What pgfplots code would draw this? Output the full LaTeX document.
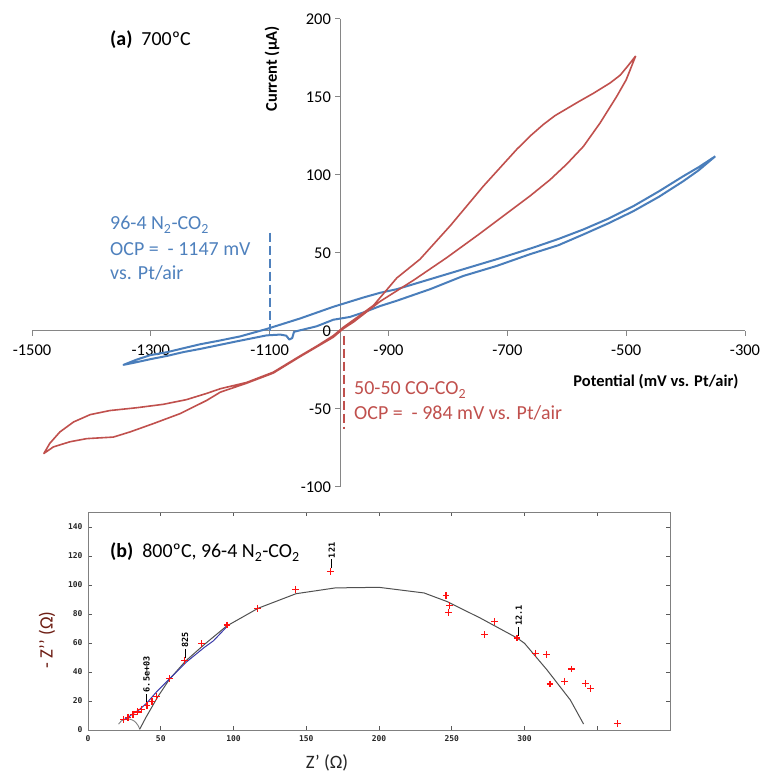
\documentclass[border=0pt]{standalone}
\usepackage{pgfplots}
\pgfplotsset{compat=1.18}
\usepackage{fontspec}
\setmainfont{Carlito}
\newfontfamily\monof{DejaVu Sans Mono}
\definecolor{xred}{HTML}{C0504D}
\definecolor{xblue}{HTML}{4A7EBB}
\definecolor{axgray}{HTML}{868686}
\definecolor{txtblue}{HTML}{4F81BD}
\definecolor{txtred}{HTML}{C0504D}
\definecolor{gpred}{HTML}{FF1010}
\definecolor{gpgray}{HTML}{505050}
\definecolor{fitblue}{HTML}{3838A8}
\definecolor{ylab}{RGB}{110,30,20}
\begin{document}
\begin{tikzpicture}
\useasboundingbox (0,0) rectangle (760bp,773bp);
% ---------------- panel (a)
\begin{axis}[
  at={(32bp,286bp)}, anchor=south west, scale only axis,
  width=713bp, height=468bp,
  xmin=-1500, xmax=-300, ymin=-100, ymax=200,
  axis x line=middle, axis y line=none,
  x axis line style={-, draw=axgray, line width=1bp},
  xtick={-1500,-1300,-1100,-900,-700,-500,-300},
  xticklabels={-1500,-1300,-1100,-900,-700,-500,-300},
  xtick align=outside, major tick length=5bp,
  tick style={axgray, line width=1bp},
  xticklabel style={font=\fontsize{16.5}{18}\selectfont, yshift=-5bp},
  clip=false,
]
\draw[axgray, line width=1bp] (axis cs:-981,-100) -- (axis cs:-981,200);
\pgfplotsinvokeforeach{-100,-50,0,50,100,150,200}{
  \draw[axgray, line width=1bp] (axis cs:-981,#1) -- ([xshift=-5bp]axis cs:-981,#1)
    node[left, inner sep=4bp, text=black, font=\fontsize{16.5}{18}\selectfont] {#1};
}
\addplot[xblue, line width=2bp, line join=round] coordinates {
(-350,112) (-378,105) (-404,99.2) (-445,89.5) (-488,80) (-530,72) (-572,65.1) (-614,59) (-656,53.5) (-718,46) (-774,39.6) (-830,33.2) (-886,26.8) (-914,24.5) (-942,21.5) (-993,15.5) (-1049,8) (-1105,1.3) (-1150,-3.5) (-1189,-6.5) (-1217,-8.5) (-1250,-11.5) (-1273,-13.6) (-1301,-15.5) (-1325,-18.5) (-1346,-21.7)
(-1330,-20.5) (-1300,-18) (-1273,-16) (-1245,-13.5) (-1217,-11.5) (-1160,-7) (-1105,-2.8) (-1082,-2.3) (-1072,-3) (-1067,-5.5) (-1062,-4.5) (-1059,-0.5) (-1021,3) (-993,7.2) (-965,9) (-942,11.9) (-914,16) (-886,19.4) (-830,26.8) (-774,35.3) (-718,41.7) (-662,49.2) (-614,55) (-572,61.9) (-530,69) (-488,76.8) (-445,86) (-404,96) (-378,103) (-350,112)
};
\addplot[xred, line width=1.6bp, line join=round] coordinates {
(-484,176.3) (-497,170) (-510,164) (-527,159) (-555,152.4) (-580,147) (-600,142.5) (-620,138) (-639,132.5) (-660,125.5) (-684,116.5) (-740,93) (-796,67.5) (-847,46) (-886,34) (-925,16.5) (-950,9.5) (-976,2.4) (-993,-3) (-1020,-9.5) (-1049,-16) (-1094,-26.4) (-1139,-33) (-1183,-37) (-1206,-40) (-1240,-44) (-1279,-47) (-1324,-49.2) (-1369,-51) (-1402,-53.6) (-1430,-58.3) (-1453,-64.7) (-1470,-72) (-1480,-78.5)
(-1464,-74.3) (-1436,-71) (-1408,-69) (-1363,-68) (-1335,-64.7) (-1296,-59.4) (-1251,-53) (-1206,-44.5) (-1183,-39.2) (-1139,-33.5) (-1094,-27) (-1049,-16.5) (-993,-4) (-976,1.5) (-958,6) (-914,19) (-858,32.5) (-802,47) (-746,62.5) (-690,78.5) (-662,86.5) (-628,97) (-600,107) (-572,118.3) (-544,133.3) (-516,150.3) (-500,161) (-484,176.3)
};
\draw[txtblue, line width=2bp, dash pattern=on 9bp off 4bp] (axis cs:-1100,63) -- (axis cs:-1100,0);
\draw[txtred, line width=1.8bp, dash pattern=on 9bp off 4bp] (axis cs:-975,-3) -- (axis cs:-975,-63);
\end{axis}
\node[anchor=base west, inner sep=0pt, font=\fontsize{20}{24}\selectfont] at (110bp,727bp) {\textbf{(a)}\ \ 700ºC};
\node[rotate=90, inner sep=0pt, font=\bfseries\fontsize{16.5}{18}\selectfont] at (272bp,704bp) {Current (µA)};
\node[inner sep=0pt, font=\bfseries\fontsize{16.5}{18}\selectfont] at (656bp,391bp) {Potential (mV vs. Pt/air)};
\begin{scope}[every node/.style={anchor=base west, inner sep=0pt, text=txtblue, font=\fontsize{20}{24}\selectfont}]
\node at (110bp,543bp) {96-4 N\textsubscript{2}-CO\textsubscript{2}};
\node at (110bp,517bp) {OCP =\ \ - 1147 mV};
\node at (110bp,493.5bp) {vs. Pt/air};
\end{scope}
\begin{scope}[every node/.style={anchor=base west, inner sep=0pt, text=txtred, font=\fontsize{20}{24}\selectfont}]
\node at (354bp,378bp) {50-50 CO-CO\textsubscript{2}};
\node at (354bp,353bp) {OCP =\ \ - 984 mV vs. Pt/air};
\end{scope}
% ---------------- panel (b)
\begin{axis}[
  at={(88bp,43bp)}, anchor=south west, scale only axis,
  width=582bp, height=217.5bp,
  xmin=0, xmax=400, ymin=0, ymax=150,
  axis line style={draw=gray, line width=1bp},
  tick align=inside, major tick length=4bp,
  tick style={gray!70!black, line width=0.8bp},
  xtick={0,50,100,150,200,250,300,350,400},
  xticklabels={0,50,100,150,200,250,300,{},{}},
  ytick={0,20,40,60,80,100,120,140},
  yticklabels={0,20,40,60,80,100,120,140},
  ticklabel style={font=\monof\bfseries\fontsize{8}{9}\selectfont, text=black!85},
  xticklabel style={yshift=-2bp},
  yticklabel style={xshift=-2bp},
  clip=false,
]
\addplot[gray, line width=0.9bp, smooth] coordinates {
(21,4) (23,6.3) (26,7.5) (29,7.4) (32,6) (34.5,3) (35.5,0.5)
};
\addplot[gpgray, line width=1bp] coordinates {
(35.5,0.5) (40,9) (44,16) (48,23) (56,35) (67,47.5) (80,59) (95,71.5) (117,84) (143,94) (170,98) (200,98.4) (231,94.5) (247,88.5) (270,77) (295,63.4) (300,59.8) (315.5,41.4) (331.5,20.7) (340.6,4.1)
};
\addplot[fitblue, line width=1bp] coordinates {
(24.3,6.9) (28,9) (31.2,11.5) (35,13.8) (40.3,18.5) (47.2,26.4) (56.4,35.6) (67.9,47.1) (80,57) (86.2,61.5) (95.4,71.2)
};
\addplot[only marks, mark=+, mark size=3.4bp, color=gpred, mark options={draw=gpred, line width=1.3bp}] coordinates {
(24.5,7.3) (27.5,8.8) (31,10.5) (34,12.5) (37,14.3) (40.5,17) (44,19.8) (47,23) (56,35.5) (66.5,47.8) (78,59.6) (95.5,72.4) (116.5,84) (142.5,97) (166.5,109.5) (246,92.6) (248.5,85.7) (247.6,80.9) (279.4,74.7) (272.6,65.7) (294.8,63.4) (307.4,52.9) (315.2,52.2) (332.4,42.1) (317.5,31.7) (327.6,33.6) (341.8,32.2) (345.5,28.8) (363.8,4.3)
};
\begin{scope}[every node/.style={anchor=west, rotate=90, inner sep=1bp, font=\monof\bfseries\fontsize{8.5}{9}\selectfont}]
\draw[black, line width=0.9bp] ([yshift=2bp]axis cs:40.3,17.5) -- ([yshift=11bp]axis cs:40.3,17.5) node {6.5e+03};
\draw[black, line width=0.9bp] ([yshift=2bp]axis cs:66.7,48) -- ([yshift=11bp]axis cs:66.7,48) node {825};
\draw[black, line width=0.9bp] ([yshift=2bp]axis cs:167.5,110) -- ([yshift=11bp]axis cs:167.5,110) node {121};
\draw[black, line width=0.9bp] ([yshift=2bp]axis cs:296,63.5) -- ([yshift=11bp]axis cs:296,63.5) node {12.1};
\end{scope}
\end{axis}
\node[anchor=base west, inner sep=0pt, font=\fontsize{20}{24}\selectfont] at (110bp,215bp) {\textbf{(b)}\ \ 800ºC, 96-4 N\textsubscript{2}-CO\textsubscript{2}};
\node[rotate=90, inner sep=0pt, text=ylab, font=\fontsize{19}{22}\selectfont] at (47bp,133bp) {- Z’’ (Ω)};
\node[inner sep=0pt, text=black!85, font=\fontsize{19}{22}\selectfont] at (327bp,10bp) {Z’ (Ω)};
\end{tikzpicture}
\end{document}
